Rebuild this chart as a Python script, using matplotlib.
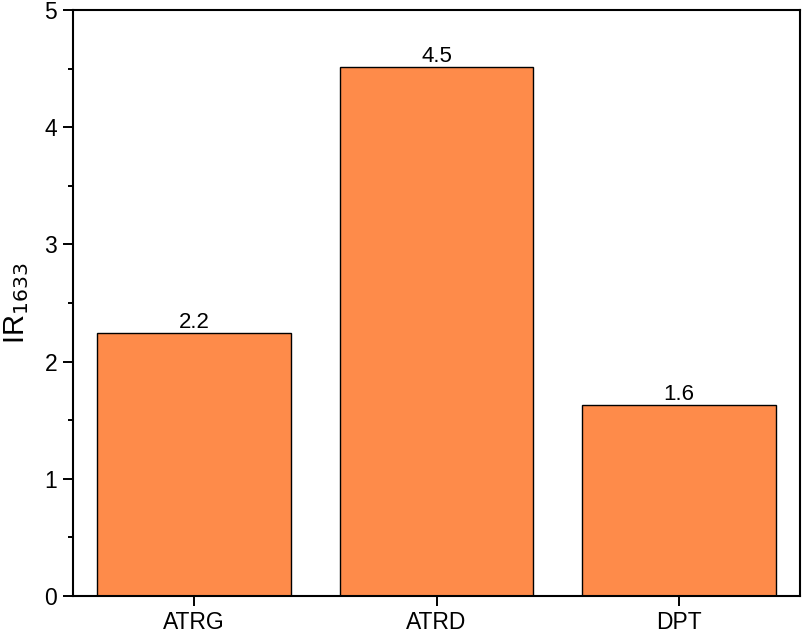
import matplotlib
matplotlib.use('Agg')
import matplotlib.pyplot as plt
from matplotlib.ticker import MultipleLocator

# data
categories = ['ATRG', 'ATRD', 'DPT']
values = [2.245, 4.51, 1.63]

plt.rcParams['font.family'] = ['Liberation Sans', 'DejaVu Sans']

fig = plt.figure(figsize=(8.02, 6.34), dpi=100)
ax = fig.add_axes([73/802, 38/634, 727/802, 586/634])

x = range(1, len(categories) + 1)
bars = ax.bar(x, values, width=0.8, color='#FE8B4A', edgecolor='black', linewidth=1.0)
for b, v in zip(bars, values):
    ax.text(b.get_x() + b.get_width()/2, v + 0.045, '%.1f' % v,
            ha='center', va='baseline', fontsize=16)

ax.set_xlim(0.5, 3.5)
ax.set_ylim(0, 5)
ax.set_xticks(list(x))
ax.set_xticklabels(categories)
ax.yaxis.set_major_locator(MultipleLocator(1))
ax.yaxis.set_minor_locator(MultipleLocator(0.5))
ax.tick_params(axis='both', which='major', direction='out', length=7.5, width=1.4,
               labelsize=16.5, pad=4)
ax.tick_params(axis='x', which='major', pad=3.5)
ax.tick_params(axis='y', which='minor', direction='out', length=3.8, width=1.4)
for s in ax.spines.values():
    s.set_linewidth(1.5)

ax.set_ylabel('IR$_{1633}$', fontsize=21)
ax.yaxis.set_label_coords(-0.058, 0.5)

fig.savefig('out.png', dpi=100)
